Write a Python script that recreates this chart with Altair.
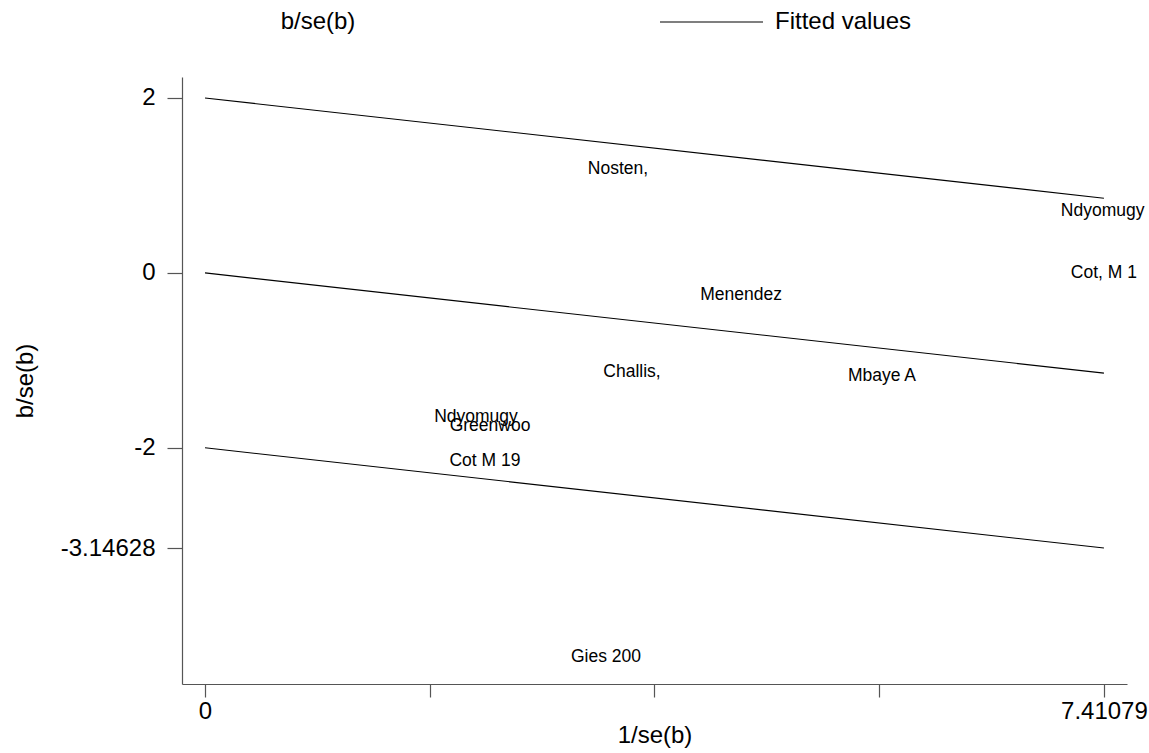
import altair as alt
import pandas as pd

# Study labels placed at (precision, standardised effect)
studies = ["Nosten,", "Ndyomugy", "Cot, M 1", "Menendez", "Challis,",
           "Mbaye A", "Ndyomugy", "Greenwoo", "Cot M 19", "Gies 200"]
precision = [3.405, 7.40, 7.41, 4.419, 3.520, 5.581, 2.234, 2.350, 2.308, 3.306]
zscore = [1.187, 0.708, 0.0, -0.253, -1.133, -1.179, -1.647, -1.750, -2.151, -4.393]

# Fitted line through the origin and the +/-2 bands, as end points
x_max = 7.41079
line_start = [2.0, 0.0, -2.0]
line_end = [0.85372, -1.14628, -3.14628]

x_ticks = [0, 1.852698, 3.705395, 5.558093, 7.41079]
y_ticks = [2, 0, -2, -3.14628]
legend_labels = ["b/se(b)", "Fitted values"]

FONT = "Liberation Sans"

points = pd.DataFrame({"study": studies, "prec": precision, "z": zscore})
lines = pd.DataFrame({
    "prec": [0.0] * 3 + [x_max] * 3,
    "z": line_start + line_end,
    "band": ["upper", "fit", "lower"] * 2,
})

x_scale = alt.Scale(domain=[-0.1896, 7.601], nice=False, zero=False)
y_scale = alt.Scale(domain=[-4.701, 2.240], nice=False, zero=False)

x_axis = alt.Axis(
    values=x_ticks,
    labelExpr="(datum.value == 0 || datum.value > 7) ? '' + datum.value : ''",
    tickSize=13, labelPadding=2, grid=False, labelOverlap=False,
    labelFlush=False, labelBound=False, title="1/se(b)",
    titleY=51, titleBaseline="middle",
)
y_axis = alt.Axis(
    values=y_ticks, labelExpr="'' + datum.value",
    tickSize=15, labelPadding=12, grid=False, labelOverlap=False,
    labelFlush=False, labelBound=False, title="b/se(b)",
    titleX=-157, titleBaseline="middle",
)

fit_lines = alt.Chart(lines).mark_line(color="black", strokeWidth=1.1).encode(
    x=alt.X("prec:Q", scale=x_scale, axis=x_axis),
    y=alt.Y("z:Q", scale=y_scale, axis=y_axis),
    detail="band:N",
)

labels = alt.Chart(points).mark_text(
    font=FONT, fontSize=17.5, color="black", align="center", baseline="middle"
).encode(
    x=alt.X("prec:Q", scale=x_scale),
    y=alt.Y("z:Q", scale=y_scale),
    text="study:N",
)

# Legend row above the plot
legend_df = pd.DataFrame({"label": legend_labels})
legend_first = alt.Chart(legend_df.iloc[[0]]).mark_text(
    font=FONT, fontSize=24, color="black", align="center", baseline="middle"
).encode(x=alt.value(136), y=alt.value(-55), text="label:N")
legend_line = alt.Chart(legend_df.iloc[[1]]).mark_rule(
    color="black", strokeWidth=1.1
).encode(x=alt.value(478), x2=alt.value(581), y=alt.value(-55))
legend_second = alt.Chart(legend_df.iloc[[1]]).mark_text(
    font=FONT, fontSize=24, color="black", align="left", baseline="middle"
).encode(x=alt.value(593), y=alt.value(-55), text="label:N")

chart = alt.layer(
    fit_lines, labels, legend_first, legend_line, legend_second
).properties(
    width=945, height=607,
    padding={"left": 182, "top": 77, "right": 22, "bottom": 69},
    autosize=alt.AutoSizeParams(type="none"),
    background="white",
).configure_view(
    stroke=None
).configure_axis(
    domainColor="#555555", tickColor="#555555", domainWidth=1.2, tickWidth=1.2,
    labelFont=FONT, labelFontSize=24, labelColor="black",
    titleFont=FONT, titleFontSize=24, titleFontWeight="normal", titleColor="black",
)

chart.save("out.html", embed_options={"renderer": "svg", "actions": False})
